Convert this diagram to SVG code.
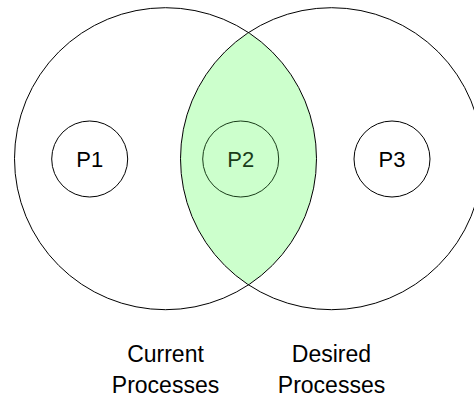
<svg xmlns="http://www.w3.org/2000/svg" width="474" height="400" viewBox="0 0 474 400">
<style>
.set{fill:none;stroke:#000;stroke-width:1}
.proc{fill:none;stroke:#000;stroke-width:1}
.lbl{font-family:"Liberation Sans",Arial,sans-serif;font-size:22px;text-anchor:middle;fill:#000}
.cap{font-family:"Liberation Sans",Arial,sans-serif;font-size:23px;text-anchor:middle;fill:#000}
</style>
<rect width="474" height="400" fill="#fff"/>
<g id="intersection">
<path d="M248.5 32.7 A151 151 0 0 1 248.5 284.7 A151 151 0 0 1 248.5 32.7 Z" fill="#ccffcc" stroke="none"/>
</g>
<g id="current">
<circle class="set" cx="165.5" cy="158.7" r="151"/>
<text class="cap" x="165.5" y="362">Current</text>
<text class="cap" x="165.5" y="393">Processes</text>
</g>
<g id="desired">
<circle class="set" cx="331.5" cy="158.7" r="151"/>
<text class="cap" x="331.5" y="362">Desired</text>
<text class="cap" x="331.5" y="393">Processes</text>
</g>
<g id="P1">
<circle class="proc" cx="89.7" cy="159" r="38"/>
<text class="lbl" x="89.7" y="167">P1</text>
</g>
<g id="P2">
<circle class="proc" cx="240.7" cy="159" r="38" style="stroke:#1a3d1a"/>
<text class="lbl" x="240.7" y="167" style="fill:#1a3d1a">P2</text>
</g>
<g id="P3">
<circle class="proc" cx="392" cy="159" r="38"/>
<text class="lbl" x="392" y="167">P3</text>
</g>
</svg>
